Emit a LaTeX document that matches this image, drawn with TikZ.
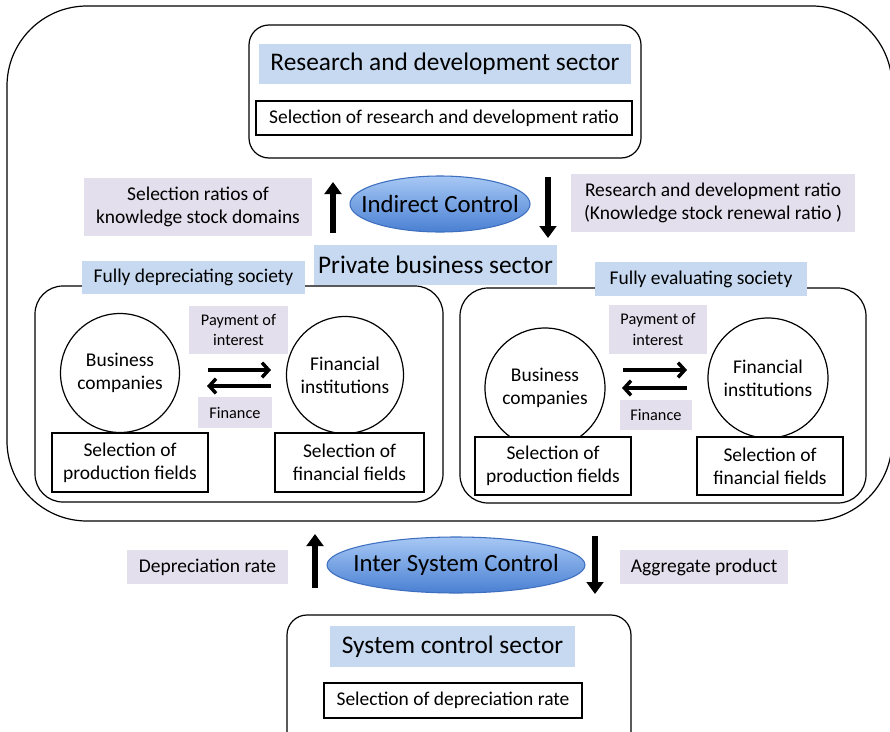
\documentclass[tikz,border=0pt]{standalone}
\usepackage{fontspec}
\setmainfont{Carlito}
\usetikzlibrary{arrows.meta,shapes.geometric}
\definecolor{titleblue}{HTML}{C6D9F1}
\definecolor{lavender}{HTML}{E4DFEC}
\definecolor{ellTop}{HTML}{A7C8F5}
\definecolor{ellBot}{HTML}{4A80D2}
\definecolor{ellLine}{HTML}{3F6FBF}
\begin{document}
\begin{tikzpicture}[x=0.75pt,y=-0.75pt,
  every node/.style={inner sep=0pt,outer sep=0pt},
  big/.style={font=\fontsize{19}{22}\selectfont},
  mid/.style={font=\fontsize{14.6}{17.5}\selectfont},
  small/.style={font=\fontsize{12.2}{15.5}\selectfont},
  sector/.style={draw,line width=0.9pt,rounded corners=15pt},
  society/.style={draw,line width=0.9pt,rounded corners=21pt},
  titlebox/.style={fill=titleblue,big},
  tagbox/.style={fill=lavender,align=center},
  selbox/.style={draw,line width=0.8pt,fill=white,mid,align=center},
  agent/.style={draw,circle,line width=0.9pt,mid,align=center},
  control/.style={draw=ellLine,line width=0.8pt,ellipse,top color=ellTop,bottom color=ellBot},
  controltext/.style={font=\fontsize{18.6}{21}\selectfont},
  flow/.style={line width=3.8pt,-{Triangle[width=12.5pt,length=9pt]}},
  pay/.style={line width=2.6pt,-{Straight Barb[length=5pt,width=11pt]}}]
\clip (0,0) rectangle (890,732);
\useasboundingbox (0,0) rectangle (890,732);

% outer frame holding the private business sector
\node[draw,line width=0.9pt,rounded corners=60pt,minimum width={885*0.75pt},minimum height={515*0.75pt}]
  (outer) at (449.5,263.5) {};

% research and development sector
\node[sector,minimum width={392*0.75pt},minimum height={133*0.75pt}] (rd) at (445,91.5) {};
\node[titlebox,minimum width={372*0.75pt},minimum height={40*0.75pt}] (rdtitle) at (445,64) {Research and development sector};
\node[selbox,minimum width={376*0.75pt},minimum height={34*0.75pt}] (rdsel) at (444,118) {Selection of research and development ratio};

% indirect control
\node[control,minimum width={180*0.75pt},minimum height={56*0.75pt}] (indirect) at (440,204) {};
\node[controltext] (indirecttext) at (indirect.center) {Indirect Control};
\node[tagbox,mid,minimum width={228*0.75pt},minimum height={58*0.75pt}] (ratios) at (198,207) {Selection ratios of\\knowledge stock domains};
\node[tagbox,mid,minimum width={284*0.75pt},minimum height={58*0.75pt}] (rdratio) at (713,203) {Research and development ratio\\(Knowledge stock renewal ratio )};
\coordinate (upA0) at (333,233);
\coordinate (upA1) at (333,182);
\coordinate (dnA0) at (548,177);
\coordinate (dnA1) at (548,238);
\draw[flow] (upA0) -- (upA1);
\draw[flow] (dnA0) -- (dnA1);

% private business sector
\node[titlebox,minimum width={243*0.75pt},minimum height={40*0.75pt}] (pbs) at (435.5,265) {Private business sector};

% fully depreciating society
\node[society,minimum width={408*0.75pt},minimum height={216*0.75pt}] (fds) at (239,394) {};
\node[fill=titleblue,mid,minimum width={223*0.75pt},minimum height={33*0.75pt}] (fdslabel) at (193.5,277.5) {Fully depreciating society};
\node[agent,minimum size={119*0.75pt}] (bc1) at (120,373) {Business\\companies};
\node[agent,minimum size={117*0.75pt}] (fi1) at (345,375) {Financial\\institutions};
\node[tagbox,small,minimum width={99*0.75pt},minimum height={48*0.75pt}] (pay1) at (238.5,330) {Payment of\\interest};
\node[tagbox,small,minimum width={74*0.75pt},minimum height={31*0.75pt}] (fin1) at (235,412.5) {Finance};
\coordinate (p1a) at (208,370);
\coordinate (p1b) at (271,370);
\coordinate (f1a) at (271,386);
\coordinate (f1b) at (207,386);
\draw[pay] (p1a) -- (p1b);
\draw[pay] (f1a) -- (f1b);
\node[selbox,minimum width={156*0.75pt},minimum height={59*0.75pt}] (spf1) at (130,462.5) {Selection of\\production fields};
\node[selbox,minimum width={149*0.75pt},minimum height={59*0.75pt}] (sff1) at (349.5,462.5) {Selection of\\financial fields};

% fully evaluating society
\node[society,minimum width={406*0.75pt},minimum height={215*0.75pt}] (fes) at (663,395.5) {};
\node[fill=titleblue,mid,minimum width={212*0.75pt},minimum height={34*0.75pt}] (feslabel) at (701,279) {Fully evaluating society};
\node[agent,minimum size={120*0.75pt}] (bc2) at (545,388) {Business\\companies};
\node[agent,minimum size={120*0.75pt}] (fi2) at (768,378) {Financial\\institutions};
\node[tagbox,small,minimum width={98*0.75pt},minimum height={49*0.75pt}] (pay2) at (658,329.5) {Payment of\\interest};
\node[tagbox,small,minimum width={72*0.75pt},minimum height={30*0.75pt}] (fin2) at (656,415) {Finance};
\coordinate (p2a) at (623,370);
\coordinate (p2b) at (687,370);
\coordinate (f2a) at (687,388);
\coordinate (f2b) at (622,388);
\draw[pay] (p2a) -- (p2b);
\draw[pay] (f2a) -- (f2b);
\node[selbox,minimum width={156*0.75pt},minimum height={58*0.75pt}] (spf2) at (553,466) {Selection of\\production fields};
\node[selbox,minimum width={146*0.75pt},minimum height={58*0.75pt}] (sff2) at (770,466) {Selection of\\financial fields};

% inter system control
\node[control,minimum width={258*0.75pt},minimum height={56*0.75pt}] (inter) at (456,565) {};
\node[controltext] (intertext) at (inter.center) {Inter System Control};
\node[tagbox,mid,minimum width={161*0.75pt},minimum height={34*0.75pt}] (deprec) at (207.5,567) {Depreciation rate};
\node[tagbox,mid,minimum width={168*0.75pt},minimum height={34*0.75pt}] (aggr) at (704,567) {Aggregate product};
\coordinate (upB0) at (315,588);
\coordinate (upB1) at (315,534);
\coordinate (dnB0) at (595,536);
\coordinate (dnB1) at (595,594);
\draw[flow] (upB0) -- (upB1);
\draw[flow] (dnB0) -- (dnB1);

% system control sector
\node[sector,minimum width={344*0.75pt},minimum height={145*0.75pt}] (scs) at (459,687.5) {};
\node[titlebox,minimum width={245*0.75pt},minimum height={41*0.75pt}] (scstitle) at (452.5,646.5) {System control sector};
\node[selbox,minimum width={258*0.75pt},minimum height={35*0.75pt}] (scssel) at (453,700.5) {Selection of depreciation rate};
\end{tikzpicture}
\end{document}
